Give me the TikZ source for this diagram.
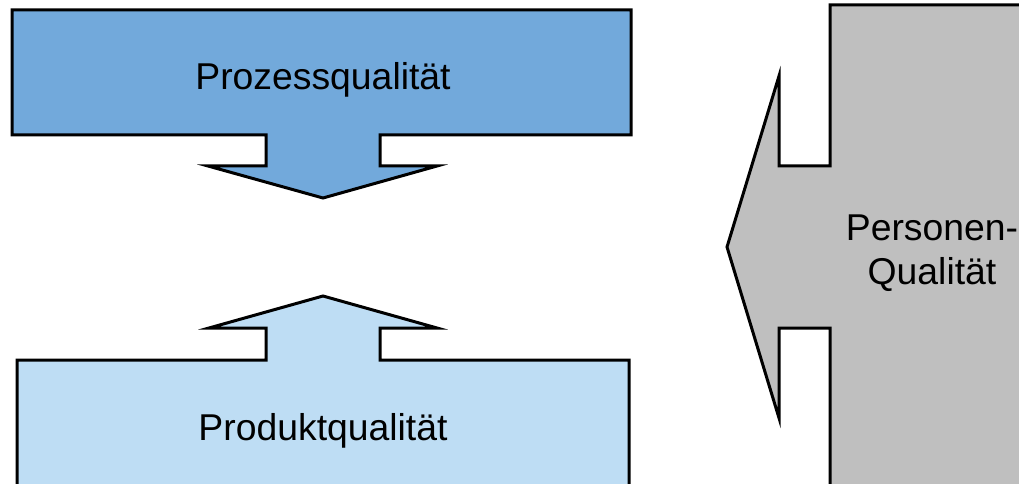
\documentclass[tikz,border=0pt]{standalone}
\usepackage{fontspec}
\setmainfont{Liberation Sans}
\definecolor{prozessblue}{RGB}{114,169,219}
\definecolor{produktblue}{RGB}{190,221,244}
\definecolor{personengray}{RGB}{191,191,191}
\begin{document}
\begin{tikzpicture}[x=0.75pt, y=-0.75pt, line width=2.25pt]
                \tikzset{quality/.style={font=\fontsize{28}{33}\selectfont, align=center, inner sep=0pt}};
                \useasboundingbox (0, 0) rectangle (1019, 484);
                \clip (0, 0) rectangle (1019, 484);
                \draw[fill=prozessblue] (12, 10) -- (631, 10) -- (631, 135) -- (380, 135) -- (380, 166) -- (437, 166) -- (323, 198) -- (208, 166) -- (266, 166) -- (266, 135) -- (12, 135) -- cycle;
                \draw[fill=produktblue] (17, 500) -- (17, 360) -- (266, 360) -- (266, 328) -- (209, 328) -- (323, 296) -- (437, 328) -- (380, 328) -- (380, 360) -- (629, 360) -- (629, 500);
                \fill[personengray] (1040, 5) -- (830, 5) -- (830, 166) -- (779, 166) -- (779, 76) -- (727, 247) -- (779, 418) -- (779, 328) -- (830, 328) -- (830, 500) -- (1040, 500) -- cycle;
                \draw (1040, 5) -- (830, 5) -- (830, 166) -- (779, 166) -- (779, 76) -- (727, 247) -- (779, 418) -- (779, 328) -- (830, 328) -- (830, 500);
                \node[quality, anchor=base] (prozess) at (323, 90) {Prozessqualität};
                \node[quality, anchor=base] (produkt) at (323, 440) {Produktqualität};
                \node[quality] (personen) at (932, 253) {Personen-\\Qualität};
            \end{tikzpicture}
\end{document}
